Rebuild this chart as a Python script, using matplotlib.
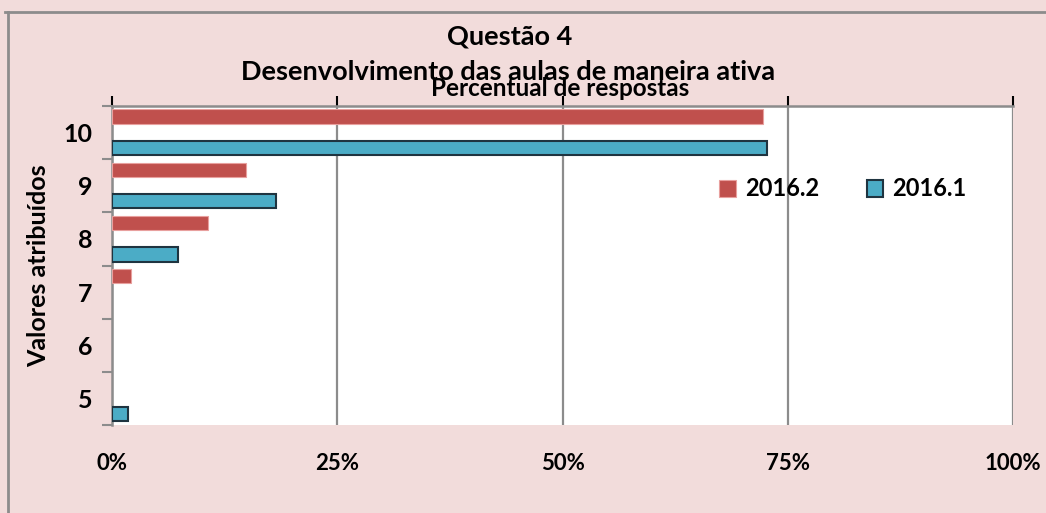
import matplotlib
matplotlib.use("Agg")
import matplotlib.pyplot as plt
from matplotlib.lines import Line2D
from matplotlib.patches import Patch
import numpy as np

categories = ['10', '9', '8', '7', '6', '5']
serie_2016_2 = [72.3, 14.9, 10.6, 2.1, 0.0, 0.0]
serie_2016_1 = [72.7, 18.2, 7.3, 0.0, 0.0, 1.8]
xticks = [0, 25, 50, 75, 100]
xtick_labels = ['0%', '25%', '50%', '75%', '100%']

RED = '#C0504D'
BLUE = '#4BACC6'
GRAY = '#8C8C8C'
BG = '#F2DCDB'

plt.rcParams['font.family'] = ['Lato', 'DejaVu Sans']
plt.rcParams['font.weight'] = 'bold'

W, H = 1046, 513
fig = plt.figure(figsize=(W / 100, H / 100), dpi=100)
fig.patch.set_facecolor(BG)

ax = fig.add_axes([112 / W, 1 - 425 / H, (1013 - 112) / W, (425 - 106) / H])
ax.set_facecolor('white')

y = np.arange(len(categories))
h = 0.27
red_lw = [0.8 if v > 0 else 0 for v in serie_2016_2]
blue_lw = [1.5 if v > 0 else 0 for v in serie_2016_1]
ax.barh(y - 0.30, serie_2016_2, height=h, color=RED, edgecolor='#E8A09E', linewidth=red_lw, zorder=3)
ax.barh(y + 0.29, serie_2016_1, height=h, color=BLUE, edgecolor='#1F3440', linewidth=blue_lw, zorder=3)

ax.set_xlim(0, 100)
ax.set_ylim(len(categories) - 0.5, -0.5)

ax.set_xticks(xticks)
ax.set_xticklabels(xtick_labels, fontsize=16, fontweight='bold')
ax.tick_params(axis='x', top=True, bottom=True, labeltop=False, labelbottom=True,
               direction='out', length=0, pad=20)
for t in ax.xaxis.get_major_ticks():
    t.tick2line.set_markersize(7)
    t.tick2line.set_color(GRAY)
    t.tick2line.set_markeredgewidth(1.5)
ax.grid(axis='x', color=GRAY, linewidth=1.6, zorder=1)

ax.set_yticks(np.arange(-0.5, len(categories), 1.0))
ax.set_yticklabels([])
ax.set_yticks(y, minor=True)
ax.set_yticklabels(categories, minor=True, fontsize=18, fontweight='bold')
ax.tick_params(axis='y', which='major', direction='out', length=7, width=1.5, color=GRAY)
ax.tick_params(axis='y', which='minor', length=0, pad=14)

for s in ['right', 'bottom']:
    ax.spines[s].set_visible(False)
for s in ['left', 'top']:
    ax.spines[s].set_color(GRAY)
    ax.spines[s].set_linewidth(1.8)

ax.set_ylabel('Valores atribuídos', fontsize=18, fontweight='bold', labelpad=10)

fig.text(510 / W, 1 - 37 / H, 'Questão 4', ha='center', va='center', fontsize=19.5, fontweight='bold')
fig.text(508 / W, 1 - 72 / H, 'Desenvolvimento das aulas de maneira ativa', ha='center', va='center',
         fontsize=19.5, fontweight='bold')
fig.text(560 / W, 1 - 88 / H, 'Percentual de respostas', ha='center', va='center',
         fontsize=17.5, fontweight='bold')

handles = [Patch(facecolor=RED, edgecolor='#E8A09E', linewidth=0.8),
           Patch(facecolor=BLUE, edgecolor='#1F3440', linewidth=1.5)]
fig.legend(handles, ['2016.2', '2016.1'], loc='center', bbox_to_anchor=(843 / W, 1 - 189 / H),
           ncol=2, frameon=False, handlelength=0.7, handleheight=0.7,
           handletextpad=0.4, columnspacing=2.0, prop={'weight': 'bold', 'size': 17})

fig.add_artist(Line2D([5 / W, 1], [1 - 12 / H, 1 - 12 / H], transform=fig.transFigure, color=GRAY, linewidth=2))
fig.add_artist(Line2D([8 / W, 8 / W], [0, 1 - 12 / H], transform=fig.transFigure, color=GRAY, linewidth=2))

fig.savefig('out.png', dpi=100, facecolor=BG)
